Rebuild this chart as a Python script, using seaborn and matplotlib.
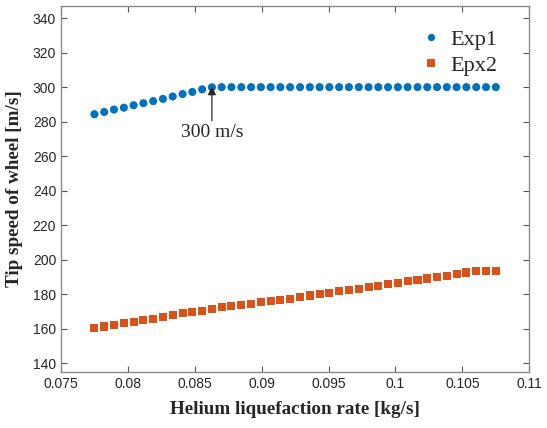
import numpy as np
import pandas as pd
import matplotlib
matplotlib.use("Agg")
import matplotlib.pyplot as plt
import seaborn as sns

# Helium liquefaction rate [kg/s]
flow_rate = [
    0.07750, 0.07823, 0.07896, 0.07970, 0.08043, 0.08116, 0.08189, 0.08262,
    0.08335, 0.08409, 0.08482, 0.08555, 0.08628, 0.08701, 0.08774, 0.08848,
    0.08921, 0.08994, 0.09067, 0.09140, 0.09213, 0.09287, 0.09360, 0.09433,
    0.09506, 0.09579, 0.09652, 0.09726, 0.09799, 0.09872, 0.09945, 0.10018,
    0.10091, 0.10165, 0.10238, 0.10311, 0.10384, 0.10457, 0.10530, 0.10604,
    0.10677, 0.10750,
]

# Tip speed of wheel [m/s]
exp1_speed = [
    284.3, 285.6, 287.0, 288.1, 289.5, 290.7, 291.9, 293.2, 294.6, 296.0,
    297.2, 298.7, 299.9, 300.0, 300.0, 300.0, 300.0, 300.0, 300.0, 300.0,
    300.0, 300.0, 300.0, 300.0, 300.0, 300.0, 300.0, 300.0, 300.0, 300.0,
    300.0, 300.0, 300.0, 300.0, 300.0, 300.0, 300.0, 300.0, 300.0, 300.0,
    300.0, 300.0,
]
epx2_speed = [
    160.6, 161.3, 162.1, 163.1, 164.0, 165.0, 165.8, 166.8, 167.9, 168.9,
    169.7, 170.4, 171.2, 172.4, 173.2, 173.8, 174.5, 175.3, 176.1, 176.8,
    177.4, 178.4, 179.3, 180.1, 180.9, 181.7, 182.5, 183.2, 184.3, 185.0,
    185.7, 186.6, 187.5, 188.3, 189.1, 189.8, 190.8, 191.8, 192.6, 193.3,
    193.7, 193.3,
]

series_names = ["Exp1", "Epx2"]
x_ticks = [0.075, 0.08, 0.085, 0.09, 0.095, 0.1, 0.105, 0.11]
x_tick_labels = ["0.075", "0.08", "0.085", "0.09", "0.095", "0.1", "0.105", "0.11"]
y_ticks = [140, 160, 180, 200, 220, 240, 260, 280, 300, 320, 340]
limit_speed = 300
limit_label = "300 m/s"

df = pd.concat([
    pd.DataFrame({"rate": flow_rate, "speed": exp1_speed, "series": series_names[0]}),
    pd.DataFrame({"rate": flow_rate, "speed": epx2_speed, "series": series_names[1]}),
], ignore_index=True)

sns.set_style("white")
plt.rcParams["font.family"] = ["Liberation Sans", "DejaVu Sans"]

fig = plt.figure(figsize=(5.47, 4.28), dpi=100)
ax = fig.add_axes([0.1115, 0.131, 0.856, 0.855])

palette = {series_names[0]: "#0072BD", series_names[1]: "#D95319"}
markers = {series_names[0]: "o", series_names[1]: "s"}

sns.scatterplot(data=df, x="rate", y="speed", hue="series", style="series",
                palette=palette, markers=markers, s=34, linewidth=0,
                ax=ax, legend=True)

ax.set_xlim(0.075, 0.11)
ax.set_ylim(135, 347)
ax.set_xticks(x_ticks)
ax.set_xticklabels(x_tick_labels)
ax.set_yticks(y_ticks)

serif = ["Liberation Serif", "DejaVu Serif"]
ax.set_xlabel("Helium liquefaction rate [kg/s]", fontsize=13.8, fontweight="bold",
              family=serif, color="#262626", labelpad=7)
ax.set_ylabel("Tip speed of wheel [m/s]", fontsize=13.8, fontweight="bold",
              family=serif, color="#262626", labelpad=7)

ax.tick_params(axis="both", which="both", direction="in", length=4, width=0.8,
               colors="#555555", labelcolor="#262626", labelsize=10,
               top=True, right=True, bottom=True, left=True)
for sp in ax.spines.values():
    sp.set_visible(True)
    sp.set_color("#8a8a8a")
    sp.set_linewidth(1.0)

# Arrow marking where Exp1 reaches its limit
x_lim_pt = flow_rate[12]
ax.annotate("", xy=(x_lim_pt, limit_speed + 0.3), xytext=(x_lim_pt, 280.5),
            arrowprops=dict(arrowstyle="-|>", color="#262626", lw=0.9,
                            mutation_scale=12, shrinkA=0, shrinkB=0))
ax.text(x_lim_pt, 273.5, limit_label, ha="center", va="center",
        fontsize=14, family=serif, color="#262626")

leg = ax.legend(loc="upper right", frameon=False, prop={"family": serif, "size": 16},
                handletextpad=0.3, handlelength=1.2, bbox_to_anchor=(0.975, 0.99),
                labelspacing=0.22, markerscale=0.9)
leg.set_title(None)

fig.savefig("out.png", dpi=100)
